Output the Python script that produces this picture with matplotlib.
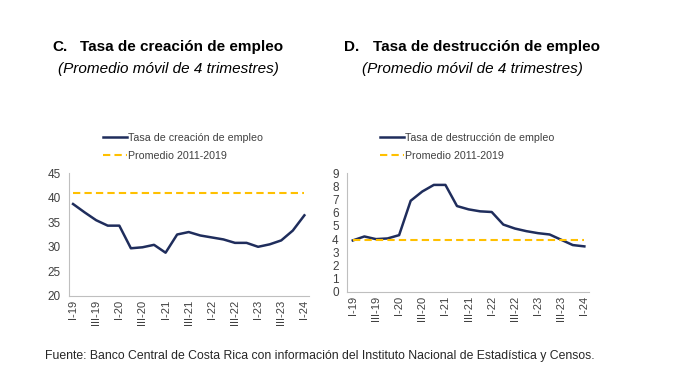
import matplotlib.pyplot as plt

plt.rcParams['font.family'] = ['Liberation Sans', 'DejaVu Sans']

# Trimestres I-19 ... I-24
trimestres = ['I-19', 'II-19', 'III-19', 'IV-19',
              'I-20', 'II-20', 'III-20', 'IV-20',
              'I-21', 'II-21', 'III-21', 'IV-21',
              'I-22', 'II-22', 'III-22', 'IV-22',
              'I-23', 'II-23', 'III-23', 'IV-23',
              'I-24']

creacion = [38.7, 37.0, 35.4, 34.3, 34.3, 29.7, 29.9, 30.4, 28.8, 32.5,
            33.0, 32.3, 31.9, 31.5, 30.8, 30.8, 30.0, 30.5, 31.3, 33.3,
            36.4]
destruccion = [3.9, 4.2, 4.0, 4.05, 4.3, 6.9, 7.6, 8.1, 8.1, 6.5,
               6.25, 6.1, 6.05, 5.1, 4.8, 4.6, 4.45, 4.35, 3.95, 3.55,
               3.45]
prom_creacion = 41.0
prom_destruccion = 3.9

navy = '#1F2D5C'
amarillo = '#FFC000'
gris = '#BFBFBF'
texto = '#404040'

fig = plt.figure(figsize=(6.84, 3.79), dpi=100)
ax1 = fig.add_axes([69/684, 1-296/379, 240/684, 123/379])
ax2 = fig.add_axes([347/684, 1-292/379, 242/684, 119/379])

x = list(range(len(trimestres)))


def estilo(ax, ylim, yticks, xlim):
    ax.set_xlim(*xlim)
    ax.set_ylim(*ylim)
    ax.set_yticks(yticks)
    ax.set_xticks(x[::2])
    ax.set_xticklabels(trimestres[::2], rotation=90, fontsize=8, color=texto)
    ax.tick_params(axis='y', labelsize=8.5, labelcolor=texto, length=0, pad=6)
    ax.tick_params(axis='x', length=0, pad=3)
    for s in ['top', 'right']:
        ax.spines[s].set_visible(False)
    for s in ['left', 'bottom']:
        ax.spines[s].set_color(gris)
        ax.spines[s].set_linewidth(0.8)


# Panel C
ax1.plot(x, creacion, color=navy, linewidth=1.8, label='Tasa de creación de empleo')
ax1.plot(x, [prom_creacion]*len(x), color=amarillo, linewidth=1.5,
         linestyle=(0, (3.5, 2)), label='Promedio 2011-2019')
estilo(ax1, (20, 45), range(20, 46, 5), (-0.35, 20.4))

# Panel D
ax2.plot(x, destruccion, color=navy, linewidth=1.8, label='Tasa de destrucción de empleo')
ax2.plot(x, [prom_destruccion]*len(x), color=amarillo, linewidth=1.5,
         linestyle=(0, (3.5, 2)), label='Promedio 2011-2019')
estilo(ax2, (0, 9), range(0, 10), (-0.5, 20.4))

for ax, xl in [(ax1, 103/684), (ax2, 380/684)]:
    ax.legend(loc='upper left', bbox_to_anchor=(xl, 1-133/379),
              bbox_transform=fig.transFigure, frameon=False, fontsize=7.7,
              handlelength=2.2, handletextpad=0.1, borderpad=0,
              borderaxespad=0, labelspacing=0.75, labelcolor=texto)

# Titulos
fig.text(52/684, 1-47/379, 'C.', fontsize=11, fontweight='bold', va='center')
fig.text(80/684, 1-47/379, 'Tasa de creación de empleo', fontsize=11,
         fontweight='bold', va='center')
fig.text(168/684, 1-69/379, '(Promedio móvil de 4 trimestres)', fontsize=11,
         style='italic', ha='center', va='center')
fig.text(344/684, 1-47/379, 'D.', fontsize=11, fontweight='bold', va='center')
fig.text(373/684, 1-47/379, 'Tasa de destrucción de empleo', fontsize=11,
         fontweight='bold', va='center')
fig.text(472/684, 1-69/379, '(Promedio móvil de 4 trimestres)', fontsize=11,
         style='italic', ha='center', va='center')

fig.text(45/684, 1-356/379,
         'Fuente: Banco Central de Costa Rica con información del Instituto '
         'Nacional de Estadística y Censos.', fontsize=8.8, va='center', color='#262626')

fig.savefig('out.png', dpi=100)
